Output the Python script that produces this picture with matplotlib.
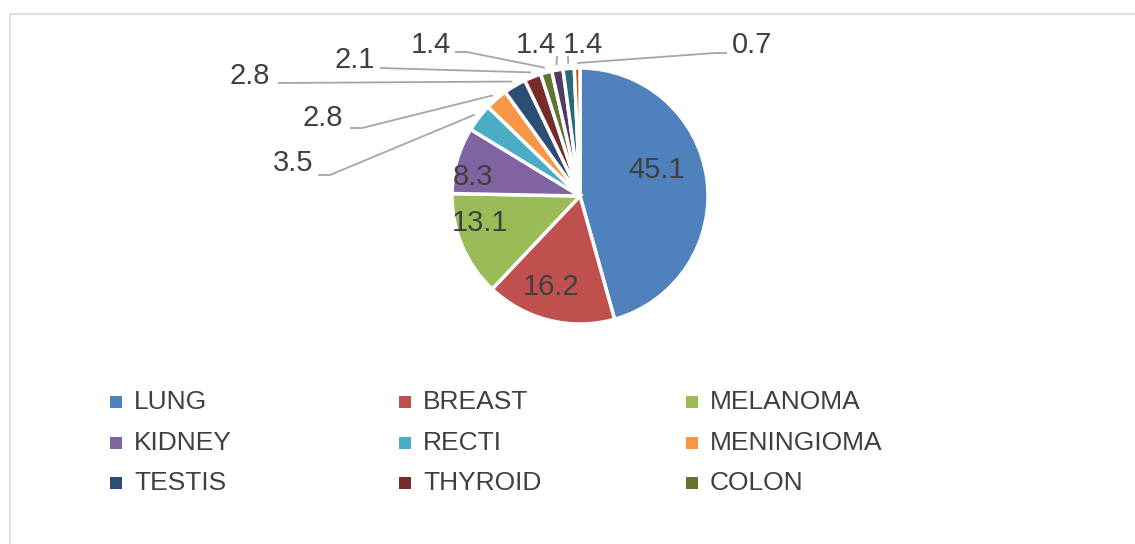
import matplotlib.pyplot as plt
import numpy as np
from matplotlib.patches import Rectangle

W, H = 1135, 544

values = [45.1, 16.2, 13.1, 8.3, 3.5, 2.8, 2.8, 2.1, 1.4, 1.4, 1.4, 0.7]
value_labels = ["45.1", "16.2", "13.1", "8.3", "3.5", "2.8", "2.8", "2.1", "1.4", "1.4", "1.4", "0.7"]
legend_names = ["LUNG", "BREAST", "MELANOMA", "KIDNEY", "RECTI", "MENINGIOMA",
                "TESTIS", "THYROID", "COLON"]
colors = ["#4F81BD", "#C0504D", "#9BBB59", "#8064A2", "#4BACC6", "#F79646",
          "#2C4D75", "#772C2A", "#5F7530", "#4D3B62", "#276A7C", "#B65708"]

# layout (pixel coords, y down)
cx, cy, R = 580, 196, 128
inside_pos = [(657, 170), (551, 287), (480, 223), (473, 177)]
outside_pos = [
    ((293, 163), [(318, 175), (330, 175)]),
    ((323, 118), [(350, 128), (362, 128)]),
    ((250, 76), [(278, 83)]),
    ((355, 60), [(380, 68)]),
    ((431, 45), [(455, 52), (467, 52)]),
    ((536, 45), [(557, 56)]),
    ((583, 45), [(568, 56)]),
    ((752, 45), [(727, 53), (715, 53)]),
]
TXT = "#404040"
FONT = "Liberation Sans"


def Y(y):
    return H - y


fig = plt.figure(figsize=(W / 100, H / 100), dpi=100)
ax = fig.add_axes([0, 0, 1, 1])

wedges, _ = ax.pie(values, colors=colors, startangle=90, counterclock=False,
                   center=(cx, Y(cy)), radius=R, frame=True,
                   wedgeprops=dict(edgecolor="white", linewidth=2.5))
ax.set_xlim(0, W)
ax.set_ylim(0, H)
ax.set_aspect("auto")
ax.axis("off")

# border of chart area
ax.add_patch(Rectangle((10, Y(H + 20)), W + 20, H + 20 - 14, fill=False,
                       edgecolor="#d9d9d9", linewidth=1.2))

for (x, y), lab in zip(inside_pos, value_labels[:4]):
    ax.text(x, Y(y), lab, ha="center", va="center", fontsize=21, color=TXT,
            family=FONT)

tot = sum(values)
cum = np.cumsum([0] + values)
for i, ((tx, ty), path) in enumerate(outside_pos):
    k = i + 4
    mid = (cum[k] + values[k] / 2) / tot * 2 * np.pi
    ex = cx + (R + 5) * np.sin(mid)
    ey = cy - (R + 5) * np.cos(mid)
    pts = path + [(ex, ey)]
    ax.plot([p[0] for p in pts], [Y(p[1]) for p in pts], color="#a6a6a6",
            linewidth=1.3, solid_capstyle="butt")
    ax.text(tx, Y(ty), value_labels[k], ha="center", va="center", fontsize=21,
            color=TXT, family=FONT)

# legend grid
col_x = [110, 399, 686]
row_y = [402, 443, 483]
for i, name in enumerate(legend_names):
    r, c = divmod(i, 3)
    x, y = col_x[c], row_y[r]
    ax.add_patch(Rectangle((x, Y(y) - 6), 12, 12, facecolor=colors[i],
                           edgecolor="none"))
    ax.text(x + 24, Y(y), name, ha="left", va="center", fontsize=19,
            color=TXT, family=FONT)

fig.savefig("out.png", dpi=100)
